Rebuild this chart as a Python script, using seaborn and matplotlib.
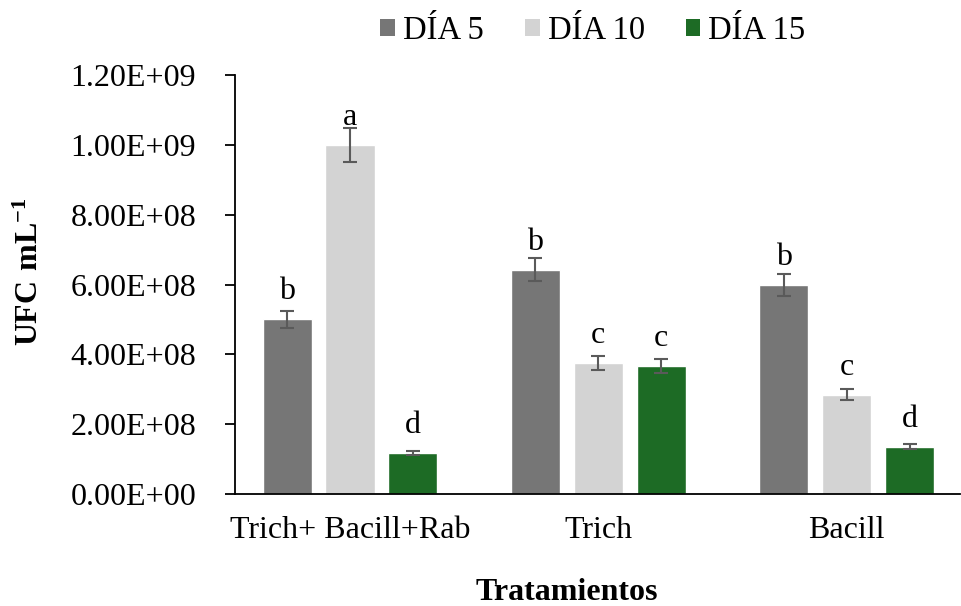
import matplotlib
matplotlib.use("Agg")
import matplotlib.pyplot as plt
import seaborn as sns
import pandas as pd
import numpy as np
from matplotlib.ticker import FuncFormatter
from matplotlib.patches import Patch

# ---- data ----
treatments = ["Trich+ Bacill+Rab", "Trich", "Bacill"]
days = ["DÍA 5", "DÍA 10", "DÍA 15"]
dia5 = [5.00e8, 6.42e8, 5.98e8]
dia10 = [1.00e9, 3.76e8, 2.85e8]
dia15 = [1.18e8, 3.67e8, 1.36e8]
err5 = [2.4e7, 3.3e7, 3.1e7]
err10 = [4.9e7, 2.0e7, 1.5e7]
err15 = [0.5e7, 1.9e7, 0.8e7]
letters5 = ["b", "b", "b"]
letters10 = ["a", "c", "c"]
letters15 = ["d", "c", "d"]
yticks = [0, 2e8, 4e8, 6e8, 8e8, 1.0e9, 1.2e9]
colors = ["#767676", "#D3D3D3", "#1D6B25"]

values = [dia5, dia10, dia15]
errors = [err5, err10, err15]
letters = [letters5, letters10, letters15]

rows = []
for d, vals in zip(days, values):
    for t, v in zip(treatments, vals):
        rows.append({"Tratamiento": t, "Dia": d, "UFC": v})
df = pd.DataFrame(rows)

sns.set_style("white")
plt.rcParams["font.family"] = ["Liberation Serif", "DejaVu Serif"]
plt.rcParams["text.color"] = "black"
plt.rcParams["axes.labelcolor"] = "black"
plt.rcParams["xtick.color"] = "black"
plt.rcParams["ytick.color"] = "black"
plt.rcParams["mathtext.fontset"] = "custom"
plt.rcParams["mathtext.rm"] = "Liberation Serif"
plt.rcParams["mathtext.bf"] = "Liberation Serif:bold"

FS = 23

fig = plt.figure(figsize=(9.62, 6.06), dpi=100)
ax = fig.add_axes([0.2443, 0.1848, 0.7537, 0.6914])

sns.barplot(data=df, x="Tratamiento", y="UFC", hue="Dia", order=treatments,
            hue_order=days, palette=colors, width=0.76, gap=0.22,
            errorbar=None, legend=False, ax=ax, saturation=1)

for cont, errs, labs in zip(ax.containers, errors, letters):
    xs = [p.get_x() + p.get_width() / 2 for p in cont.patches]
    hs = [p.get_height() for p in cont.patches]
    ax.errorbar(xs, hs, yerr=errs, fmt="none", ecolor="#5a5a5a",
                elinewidth=1.5, capsize=5, capthick=1.5, zorder=5)
    for x, h, l in zip(xs, hs, labs):
        ax.annotate(l, (x, h), xytext=(0, 14.4), textcoords="offset points",
                    ha="center", va="baseline", fontsize=FS)

ax.set_ylim(0, 1.2e9)
ax.set_xlim(-0.463, 2.457)
ax.set_yticks(yticks)
ax.yaxis.set_major_formatter(FuncFormatter(lambda v, p: f"{v:.2E}"))
ax.tick_params(axis="y", which="both", left=True, length=7, width=1.3,
               labelsize=FS, pad=21, color="black", labelcolor="black")
ax.tick_params(axis="x", bottom=False, labelsize=FS, pad=12, labelcolor="black")
for s in ["top", "right"]:
    ax.spines[s].set_visible(False)
for s in ["left", "bottom"]:
    ax.spines[s].set_color("black")
    ax.spines[s].set_linewidth(1.3)
ax.set_xlabel("")
ax.set_ylabel("")

fig.text(30 / 962, 1 - 272 / 606, r"$\mathbf{UFC\ mL^{\mathbf{-1}}}$", fontsize=FS,
         rotation=90, ha="center", va="center", color="black")
fig.text(567 / 962, 1 - 593 / 606, "Tratamientos", fontsize=FS,
         fontweight="bold", ha="center", va="center", color="black")

handles = [Patch(facecolor=c, edgecolor="none") for c in colors]
fig.legend(handles, days, loc="center", bbox_to_anchor=(593 / 962, 1 - 31 / 606),
           ncol=3, frameon=False, fontsize=FS + 0.5, handlelength=0.45,
           handleheight=0.45, handletextpad=0.25, columnspacing=1.25)

fig.savefig("out.png", dpi=100)
